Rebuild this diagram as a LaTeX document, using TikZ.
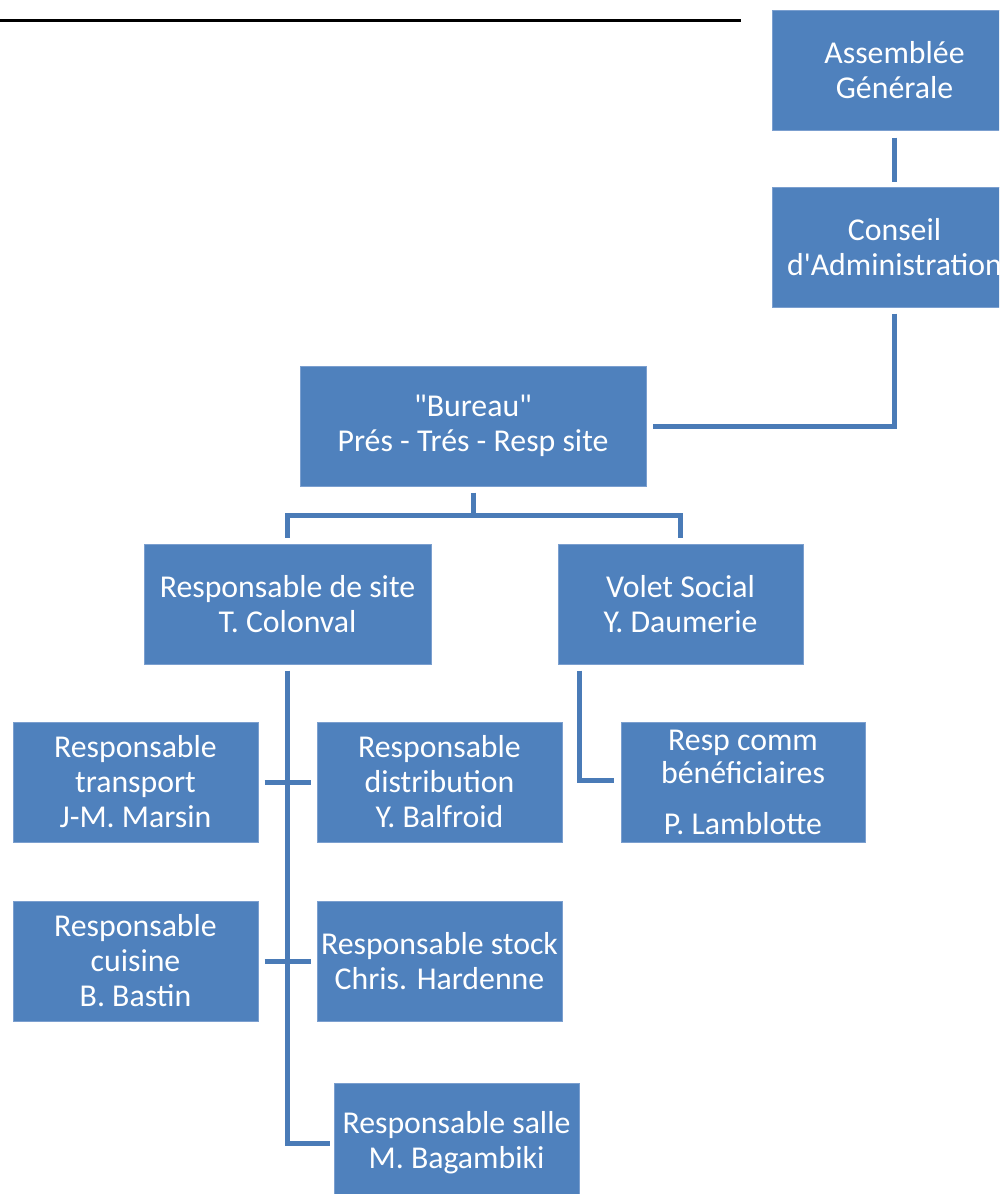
\documentclass[tikz,border=0pt]{standalone}
\usepackage{fontspec}
\setmainfont{Carlito}[Ligatures=TeXOff]
\definecolor{boxfill}{HTML}{4F81BD}
\definecolor{boxedge}{HTML}{7B9FCF}
\definecolor{linecol}{HTML}{4A7BB7}
\tikzset{
  orgbox/.style={rectangle, fill=boxfill, draw=boxedge, line width=1pt, text=white,
    align=center, inner sep=0pt, minimum width=245pt, minimum height=120pt,
    font=\fontsize{31.8}{35}\selectfont},
  conn/.style={draw=linecol, line width=5pt, line cap=butt, line join=miter},
  rule/.style={draw=black, line width=3pt}
}
\begin{document}
\begin{tikzpicture}[x=1pt, y=-1pt]
\useasboundingbox (0,0) rectangle (999,1194);
\clip (0,0) rectangle (999,1194);
\coordinate (rl) at (0,20);
\coordinate (rr) at (741,20);
\draw[rule] (rl) -- (rr);

\node[orgbox] (AG) at (894.5,70) {Assemblée\\Générale};
\node[orgbox] (CA) at (894.5,247) {Conseil\\d'Administration};
\node[orgbox, minimum width=346pt] (Bur) at (473,426) {"Bureau"\\Prés - Trés - Resp site};
\node[orgbox, minimum width=287pt] (Site) at (287.5,604) {Responsable de site\\T. Colonval};
\node[orgbox] (Volet) at (680.5,604) {Volet Social\\Y. Daumerie};
\node[orgbox] (Trans) at (135.5,782) {Responsable\\transport\\J-M. Marsin};
\node[orgbox] (Dist) at (439.5,782) {Responsable\\distribution\\Y. Balfroid};
\node[orgbox, minimum width=244pt] (Comm) at (743,782) {Resp comm\\[-2pt]bénéficiaires\\[16pt]P. Lamblotte};
\node[orgbox] (Cuis) at (135.5,961) {Responsable\\cuisine\\B. Bastin};
\node[orgbox] (Stock) at (439.5,961) {Responsable stock\\Chris. Hardenne};
\node[orgbox] (Salle) at (456.5,1143) {Responsable salle\\M. Bagambiki};

\draw[conn] ([yshift=-7pt]AG.south) -- ([yshift=5pt]CA.north);
\draw[conn] ([yshift=-6pt]CA.south) |- ([xshift=6pt]Bur.east);
\coordinate (bj) at (473,515);
\draw[conn] ([yshift=-6pt]Bur.south) -- (bj);
\draw[conn] ([yshift=6pt]Site.north) |- (bj) -| ([yshift=6pt]Volet.north);
\draw[conn] ([yshift=-6pt]Site.south) |- ([xshift=-4pt]Salle.west);
\draw[conn] ([xshift=6pt]Trans.east) -- ([xshift=-6pt]Dist.west);
\draw[conn] ([xshift=6pt]Cuis.east) -- ([xshift=-6pt]Stock.west);
\draw[conn] ([xshift=22pt,yshift=-6pt]Volet.south west) |- ([xshift=-7pt,yshift=2pt]Comm.west);
\end{tikzpicture}
\end{document}
